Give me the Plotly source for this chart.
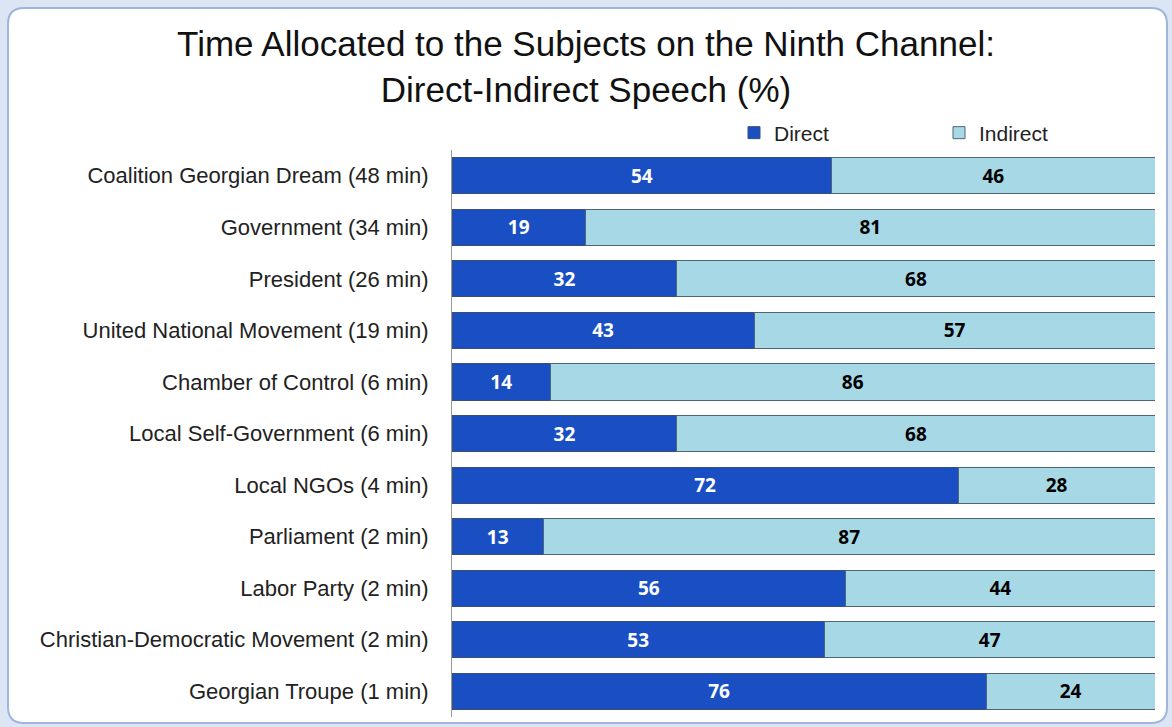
import plotly.graph_objects as go

categories = [
    "Coalition Georgian Dream (48 min)",
    "Government (34 min)",
    "President (26 min)",
    "United National Movement (19 min)",
    "Chamber of Control (6 min)",
    "Local Self-Government (6 min)",
    "Local NGOs (4 min)",
    "Parliament (2 min)",
    "Labor Party (2 min)",
    "Christian-Democratic Movement (2 min)",
    "Georgian Troupe (1 min)",
]
direct = [54, 19, 32, 43, 14, 32, 72, 13, 56, 53, 76]
indirect = [46, 81, 68, 57, 86, 68, 28, 87, 44, 47, 24]

W, H = 1172, 727
ML, MR, MT, MB = 452, 17, 150, 10
PW, PH = W - ML - MR, H - MT - MB

def px(X):
    return (X - ML) / PW

def py(Y):
    return (H - MB - Y) / PH

fig = go.Figure()
fig.add_trace(go.Bar(
    y=categories, x=direct, name="Direct", orientation="h",
    marker=dict(color="#1a4fc4", line=dict(color="#3a4f78", width=1)),
    text=direct, textposition="inside", insidetextanchor="middle",
    textfont=dict(color="white", size=19, family="Open Sans", weight="bold"),
    width=0.7,
))
fig.add_trace(go.Bar(
    y=categories, x=indirect, name="Indirect", orientation="h",
    marker=dict(color="#a7d8e6", line=dict(color="#4f6678", width=1)),
    text=indirect, textposition="inside", insidetextanchor="middle",
    textfont=dict(color="black", size=19, family="Open Sans", weight="bold"),
    width=0.7,
))

# frame
x0, x1, y0, y1, r = 8, 1167, 8, 723, 16
path = (f"M{px(x0+r)},{py(y0)} L{px(x1-r)},{py(y0)} Q{px(x1)},{py(y0)} {px(x1)},{py(y0+r)} "
        f"L{px(x1)},{py(y1-r)} Q{px(x1)},{py(y1)} {px(x1-r)},{py(y1)} "
        f"L{px(x0+r)},{py(y1)} Q{px(x0)},{py(y1)} {px(x0)},{py(y1-r)} "
        f"L{px(x0)},{py(y0+r)} Q{px(x0)},{py(y0)} {px(x0+r)},{py(y0)} Z")
fig.add_shape(type="path", path=path, xref="paper", yref="paper",
              fillcolor="white", line=dict(color="#9fb5dc", width=2), layer="below")

fig.update_layout(
    width=W, height=H,
    margin=dict(l=ML, r=MR, t=MT, b=MB),
    barmode="stack",
    bargap=0.3,
    paper_bgcolor="#dbe5f4",
    plot_bgcolor="rgba(0,0,0,0)",
    font=dict(family="Liberation Sans, Arial", color="#222"),
    title=dict(
        text="Time Allocated to the Subjects on the Ninth Channel:<br>Direct-Indirect Speech (%)",
        x=0.5, xref="container", xanchor="center",
        y=1 - 56 / H, yref="container", yanchor="middle",
        font=dict(size=35, color="#111", family="Liberation Sans, Arial"),
    ),
    legend=dict(
        orientation="h", x=px(734), xanchor="left", y=py(133), yanchor="middle",
        font=dict(size=21, color="#222"), entrywidth=160, entrywidthmode="pixels",
        bgcolor="rgba(0,0,0,0)", traceorder="normal", itemwidth=30,
    ),
    xaxis=dict(range=[0, 100], visible=False, fixedrange=True),
    yaxis=dict(
        categoryorder="array", categoryarray=categories, autorange="reversed",
        showline=True, linecolor="#999", linewidth=1, showgrid=False,
        ticks="", ticklabelstandoff=18,
        tickfont=dict(size=22, color="#222", family="Liberation Sans, Arial"),
    ),
    uniformtext=dict(minsize=10, mode="show"),
)

fig.write_html("out.html")
